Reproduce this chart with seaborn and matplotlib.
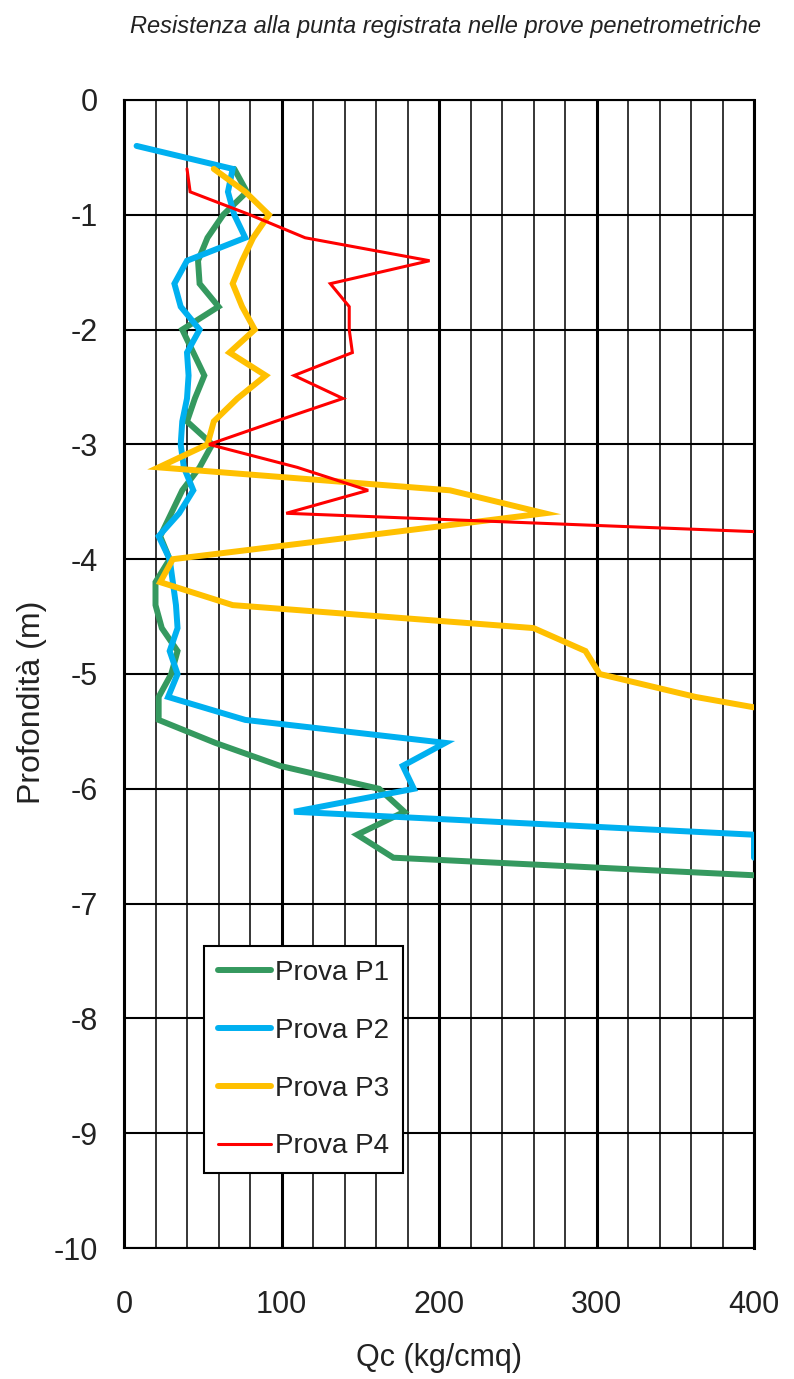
import matplotlib
matplotlib.use("Agg")
import matplotlib.pyplot as plt
import numpy as np
import pandas as pd
import seaborn as sns
from matplotlib.lines import Line2D
from matplotlib.ticker import MultipleLocator

# Depth readings (m), one every 20 cm
depth = [-0.4, -0.6, -0.8, -1.0, -1.2, -1.4, -1.6, -1.8, -2.0, -2.2, -2.4,
         -2.6, -2.8, -3.0, -3.2, -3.4, -3.6, -3.8, -4.0, -4.2, -4.4, -4.6,
         -4.8, -5.0, -5.2, -5.4, -5.6, -5.8, -6.0, -6.2, -6.4, -6.6, -6.8]

# Cone resistance Qc (kg/cmq) for each test
qc_p1 = [70, 78, 63, 53, 47, 48, 60, 37, 44, 51, 45, 40, 56, 48, 37, 30, 23,
         29, 20, 20, 24, 34, 30, 22, 22, 58, 99, 162, 178, 148, 171, 470]
depth_p1 = depth[1:33]

qc_p2 = [8, 69, 66, 70, 77, 40, 32, 36, 48, 40, 41, 40, 37, 36, 38, 44, 35,
         22, 29, 31, 33, 34, 29, 34, 28, 77, 204, 177, 184, 108, 400, 400]
depth_p2 = depth[0:32]

qc_p3 = [57, 77, 92, 82, 75, 69, 75, 83, 67, 90, 72, 57, 53, 22, 207, 267,
         150, 31, 23, 69, 260, 293, 302, 363, 445]
depth_p3 = depth[1:26]

qc_p4 = [40, 42, 80, 115, 194, 131, 143, 143, 145, 108, 139, 96, 54, 110,
         155, 103, 475]
depth_p4 = depth[1:18]

labels = ["Prova P1", "Prova P2", "Prova P3", "Prova P4"]
colors = ["#35995F", "#00B0F0", "#FFC000", "#FF0000"]
widths = [4.3, 4.3, 4.3, 2.2]

x_ticks = [0, 100, 200, 300, 400]
y_ticks = [0, -1, -2, -3, -4, -5, -6, -7, -8, -9, -10]

frames = []
for lab, q, d in zip(labels, [qc_p1, qc_p2, qc_p3, qc_p4],
                     [depth_p1, depth_p2, depth_p3, depth_p4]):
    frames.append(pd.DataFrame({"qc": q, "depth": d, "prova": lab}))
df = pd.concat(frames, ignore_index=True)

sns.set_theme(style="white")
plt.rcParams["font.family"] = ["Liberation Sans", "DejaVu Sans"]
plt.rcParams["axes.unicode_minus"] = False

W, H = 794, 1379
fig = plt.figure(figsize=(W / 100, H / 100), dpi=100)
ax = fig.add_axes([124 / W, 1 - 1248 / H, 630 / W, 1148 / H])

for lab, col, lw in zip(labels, colors, widths):
    sub = df[df["prova"] == lab]
    sns.lineplot(data=sub, x="qc", y="depth", orient="y", sort=False,
                 estimator=None, color=col, linewidth=lw, ax=ax,
                 legend=False, zorder=3, solid_joinstyle="miter")

ax.set_xlim(0, 400)
ax.set_ylim(-10, 0)

ax.xaxis.set_minor_locator(MultipleLocator(20))
ax.set_xticks(x_ticks)
ax.set_yticks(y_ticks)
ax.set_xticklabels([str(v) for v in x_ticks])
ax.set_yticklabels([str(v) for v in y_ticks])

ax.set_axisbelow(True)
ax.grid(which="minor", axis="x", color="black", linewidth=1.1)
ax.grid(which="major", axis="x", color="black", linewidth=2.2)
ax.grid(which="major", axis="y", color="black", linewidth=1.5)

for s in ax.spines.values():
    s.set_color("black")
    s.set_linewidth(1.5)
ax.spines["right"].set_linewidth(2.2)

ax.tick_params(axis="x", which="both", length=0, pad=30, labelsize=22,
               labelcolor="#222222")
ax.tick_params(axis="y", which="major", length=8, width=1.5, direction="out",
               color="black", pad=11, labelsize=22, labelcolor="#222222")
ax.set_xlabel("")
ax.set_ylabel("")

fig.text(439 / W, 1 - 1358 / H, "Qc (kg/cmq)", ha="center", va="center",
         fontsize=22, color="#222222")
fig.text(32 / W, 1 - 702 / H, "Profondità (m)", ha="center", va="center",
         rotation=90, fontsize=23, color="#222222")
fig.text(445 / W, 1 - 27 / H,
         "Resistenza alla punta registrata nelle prove penetrometriche",
         ha="center", va="center", fontsize=17, style="italic",
         color="#222222")

handles = [Line2D([0], [0], color=c, linewidth=lw) for c, lw in zip(colors, widths)]
leg = ax.legend(handles, labels, loc="lower left",
                bbox_to_anchor=(0.127, 0.065), fontsize=20, frameon=True,
                fancybox=False, edgecolor="black", framealpha=1,
                handlelength=1.9, handletextpad=0.15, labelspacing=1.15,
                borderpad=0.5, borderaxespad=0)
leg.get_frame().set_linewidth(1.5)
for t in leg.get_texts():
    t.set_color("#222222")

fig.savefig("out.png", dpi=100, facecolor="white")
